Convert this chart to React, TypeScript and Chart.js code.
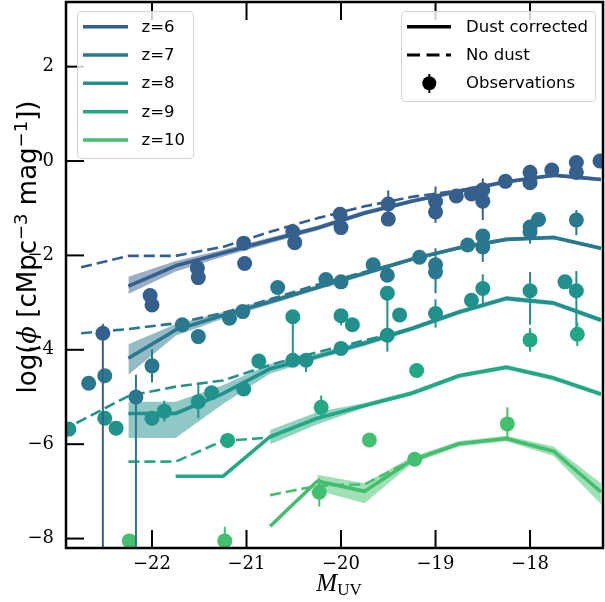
import React, { useEffect, useRef } from "react";
import { Chart, registerables } from "chart.js";

Chart.register(...registerables);

// ---------- data ----------
const Z_LABELS = ["z=6", "z=7", "z=8", "z=9", "z=10"];
const Z_COLORS = ["#355f8d", "#2a788e", "#21918c", "#22a884", "#44bf70"];
const MUV_BINS = [-23.25, -22.75, -22.25, -21.75, -21.25, -20.75, -20.25, -19.75, -19.25, -18.75, -18.25, -17.75, -17.25];

const X_TICKS = [-22, -21, -20, -19, -18];
const Y_TICKS = [-8, -6, -4, -2, 0, 2];
const X_RANGE = [-22.91, -17.228];
const Y_RANGE = [-8.2, 3.37];

// dust-corrected model, its shaded band, and no-dust model (null = not drawn)
const Z6_DUST = [null, null, -2.65, -2.22, -1.95, -1.68, -1.42, -1.1, -0.85, -0.64, -0.44, -0.3, -0.39];
const Z6_LO = [null, null, -2.82, -2.34, -2.03, -1.74, -1.47, -1.15, -0.89, -0.68, -0.48, -0.34, -0.43];
const Z6_HI = [null, null, -2.45, -2.12, -1.88, -1.62, -1.37, -1.05, -0.81, -0.6, -0.4, -0.26, -0.35];
const Z6_NODUST = [null, -2.25, -2.01, -2.01, -1.82, -1.5, -1.21, -0.96, -0.76, -0.62, -0.44, -0.3, -0.39];

const Z7_DUST = [null, null, -4.18, -3.58, -3.27, -2.98, -2.68, -2.38, -2.08, -1.84, -1.66, -1.62, -1.85];
const Z7_LO = [null, null, -4.53, -3.7, -3.34, -3.04, -2.73, -2.43, -2.12, -1.88, -1.7, -1.66, -1.89];
const Z7_HI = [null, null, -3.88, -3.46, -3.2, -2.92, -2.63, -2.33, -2.04, -1.8, -1.62, -1.58, -1.81];
const Z7_NODUST = [null, -3.65, -3.56, -3.44, -3.22, -2.93, -2.62, -2.35, -2.08, -1.84, -1.66, -1.62, -1.85];

const Z8_DUST = [null, null, -5.35, -5.35, -4.93, -4.4, -4.14, -3.86, -3.55, -3.2, -2.91, -3.01, -3.37];
const Z8_LO = [null, null, -5.87, -5.87, -5.15, -4.5, -4.2, -3.92, -3.6, -3.25, -2.96, -3.06, -3.42];
const Z8_HI = [null, null, -5.1, -5.1, -4.75, -4.3, -4.08, -3.8, -3.5, -3.15, -2.86, -2.96, -3.32];
const Z8_NODUST = [-6.02, -5.5, -4.98, -4.78, -4.65, -4.32, -4.05, -3.8, -3.55, -3.2, -2.91, -3.01, -3.37];

const Z9_DUST = [null, null, null, -6.68, -6.68, -5.84, -5.45, -5.18, -4.92, -4.55, -4.37, -4.6, -4.94];
const Z9_LO = [null, null, null, null, null, -6.0, -5.58, -5.23, -4.97, -4.6, -4.42, -4.65, -4.99];
const Z9_HI = [null, null, null, null, null, -5.7, -5.32, -5.13, -4.87, -4.5, -4.32, -4.55, -4.89];
const Z9_NODUST = [null, null, -6.37, -6.37, -5.93, -5.86, -5.45, -5.18, -4.92, -4.55, -4.37, -4.6, -4.94];

const Z10_DUST = [null, null, null, null, null, -7.74, -6.78, -7.0, -6.34, -5.99, -5.88, -6.15, -7.01];
const Z10_LO = [null, null, null, null, null, null, -6.98, -7.25, -6.41, -6.05, -5.94, -6.25, -7.27];
const Z10_HI = [null, null, null, null, null, null, -6.65, -6.83, -6.27, -5.93, -5.82, -6.05, -6.83];
const Z10_NODUST = [null, null, null, null, null, -7.08, -6.88, -6.85, -6.34, -5.99, -5.88, -6.15, -7.01];

// observations: x, y, lower error, upper error
const OBS_Z6_X = [-22.52, -22.02, -22.0, -21.52, -21.51, -21.03, -21.02, -20.51, -20.49, -20.01, -20.0, -19.5, -19.5, -19.0, -19.0, -18.78, -18.62, -18.5, -18.5, -18.26, -18.0, -18.0, -17.77, -17.51, -17.51, -17.26];
const OBS_Z6_Y = [-3.65, -2.85, -3.05, -2.27, -2.47, -1.74, -2.17, -1.5, -1.73, -1.13, -1.41, -0.91, -1.23, -0.86, -1.08, -0.74, -0.7, -0.61, -0.85, -0.43, -0.24, -0.46, -0.19, -0.03, -0.24, 0.0];
const OBS_Z6_ELO = [5, 0, 0.12, 0, 0, 0, 0, 0, 0, 0, 0, 0.29, 0, 0.45, 0, 0, 0, 0, 0.4, 0, 0, 0.15, 0, 0, 0.16, 0];
const OBS_Z6_EHI = [0.2, 0, 0.12, 0, 0, 0, 0, 0, 0, 0, 0, 0.29, 0, 0.32, 0, 0, 0, 0, 0.48, 0, 0.16, 0, 0, 0.12, 0, 0];

const OBS_Z7_X = [-22.67, -22.5, -22.17, -22.0, -21.68, -21.51, -21.18, -21.04, -20.67, -20.16, -20.0, -19.66, -19.51, -19.17, -19.0, -19.0, -18.66, -18.5, -18.5, -18.0, -18.0, -17.91, -17.51];
const OBS_Z7_Y = [-4.71, -4.55, -5.0, -4.34, -3.47, -3.72, -3.33, -3.19, -2.68, -2.51, -2.56, -2.2, -2.42, -2.04, -2.2, -2.35, -1.78, -1.59, -1.82, -1.4, -1.5, -1.24, -1.25];
const OBS_Z7_ELO = [0, 0, 5, 0.35, 0, 0, 0, 0, 0, 0, 0, 0, 0, 0, 0, 0.45, 0, 0, 0.32, 0, 0.25, 0, 0.32];
const OBS_Z7_EHI = [0, 0, 0.47, 0.35, 0, 0, 0, 0, 0, 0, 0, 0, 0, 0, 0, 0.5, 0, 0, 0.2, 0, 0.25, 0, 0.21];

const OBS_Z8_X = [-22.88, -22.5, -22.38, -22.0, -21.87, -21.51, -21.37, -21.03, -20.87, -20.51, -20.51, -20.37, -20.0, -19.88, -20.0, -19.51, -19.51, -19.38, -19.0, -18.62, -18.5, -18.0, -17.63, -17.51];
const OBS_Z8_Y = [-5.68, -5.45, -5.66, -5.45, -5.3, -5.1, -4.91, -4.83, -4.24, -4.22, -3.3, -4.22, -3.28, -3.47, -3.97, -2.8, -3.69, -3.26, -3.23, -2.95, -2.7, -2.75, -2.56, -2.75];
const OBS_Z8_ELO = [0, 0, 0, 0, 0.22, 0.35, 0, 0, 0, 0, 0.92, 0.25, 0.2, 0, 0, 0, 0.35, 0, 0.3, 0, 0.39, 0.72, 0, 0.85];
const OBS_Z8_EHI = [0, 0, 0, 0, 0.22, 0.35, 0, 0, 0, 0, 0, 0, 0, 0, 0, 0, 0.95, 0, 0.3, 0, 0.3, 0.4, 0, 0.42];

const OBS_Z9_X = [-21.2, -20.21, -19.2, -18.0, -17.5];
const OBS_Z9_Y = [-5.92, -5.22, -4.44, -3.79, -3.67];
const OBS_Z9_ELO = [0, 0.25, 0.1, 0.25, 0.25];
const OBS_Z9_EHI = [0, 0.25, 0, 0.25, 0.25];

const OBS_Z10_X = [-22.24, -21.23, -20.23, -19.7, -19.22, -18.24];
const OBS_Z10_Y = [-8.05, -8.05, -7.02, -5.91, -6.32, -5.57];
const OBS_Z10_ELO = [0, 0, 0.3, 0.1, 0, 0.35];
const OBS_Z10_EHI = [0, 0.3, 0.3, 0, 0, 0.35];

const MODELS = [
  { dust: Z6_DUST, lo: Z6_LO, hi: Z6_HI, nodust: Z6_NODUST },
  { dust: Z7_DUST, lo: Z7_LO, hi: Z7_HI, nodust: Z7_NODUST },
  { dust: Z8_DUST, lo: Z8_LO, hi: Z8_HI, nodust: Z8_NODUST },
  { dust: Z9_DUST, lo: Z9_LO, hi: Z9_HI, nodust: Z9_NODUST },
  { dust: Z10_DUST, lo: Z10_LO, hi: Z10_HI, nodust: Z10_NODUST },
];
const OBS = [
  { x: OBS_Z6_X, y: OBS_Z6_Y, elo: OBS_Z6_ELO, ehi: OBS_Z6_EHI },
  { x: OBS_Z7_X, y: OBS_Z7_Y, elo: OBS_Z7_ELO, ehi: OBS_Z7_EHI },
  { x: OBS_Z8_X, y: OBS_Z8_Y, elo: OBS_Z8_ELO, ehi: OBS_Z8_EHI },
  { x: OBS_Z9_X, y: OBS_Z9_Y, elo: OBS_Z9_ELO, ehi: OBS_Z9_EHI },
  { x: OBS_Z10_X, y: OBS_Z10_Y, elo: OBS_Z10_ELO, ehi: OBS_Z10_EHI },
];

// ---------- helpers ----------
function rgba(hex: string, a: number) {
  const n = parseInt(hex.slice(1), 16);
  return `rgba(${(n >> 16) & 255},${(n >> 8) & 255},${n & 255},${a})`;
}
function series(vals: (number | null)[]) {
  return MUV_BINS.map((x, i) => ({ x, y: vals[i] })).filter((p) => p.y !== null);
}
const fmt = (v: any) => String(v).replace("-", "\u2212");

const errorBarPlugin = {
  id: "errorBars",
  afterDatasetsDraw(chart: any) {
    const { ctx, chartArea: a, scales } = chart;
    ctx.save();
    ctx.beginPath();
    ctx.rect(a.left, a.top, a.right - a.left, a.bottom - a.top);
    ctx.clip();
    chart.data.datasets.forEach((ds: any) => {
      if (!ds.errLo) return;
      ctx.strokeStyle = ds.pointBackgroundColor;
      ctx.lineWidth = 2;
      ds.data.forEach((p: any, j: number) => {
        const lo = ds.errLo[j];
        const hi = ds.errHi[j];
        if (!lo && !hi) return;
        const px = scales.x.getPixelForValue(p.x);
        ctx.beginPath();
        ctx.moveTo(px, scales.y.getPixelForValue(p.y - lo));
        ctx.lineTo(px, scales.y.getPixelForValue(p.y + hi));
        ctx.stroke();
      });
    });
    ctx.restore();
  },
};

const framePlugin = {
  id: "frameTicks",
  afterDraw(chart: any) {
    const { ctx, chartArea: a, scales } = chart;
    const L = 18;
    ctx.save();
    ctx.strokeStyle = "#000";
    ctx.lineWidth = 2;
    const seg = (x1: number, y1: number, x2: number, y2: number) => {
      ctx.beginPath();
      ctx.moveTo(x1, y1);
      ctx.lineTo(x2, y2);
      ctx.stroke();
    };
    X_TICKS.forEach((v) => {
      const px = scales.x.getPixelForValue(v);
      seg(px, a.bottom, px, a.bottom - L);
      seg(px, a.top, px, a.top + L);
    });
    Y_TICKS.forEach((v) => {
      const py = scales.y.getPixelForValue(v);
      seg(a.left, py, a.left + L, py);
    });
    ctx.lineWidth = 2.5;
    ctx.strokeRect(a.left, a.top, a.right - a.left, a.bottom - a.top);
    ctx.restore();
  },
};

// ---------- component ----------
export default function App() {
  const ref = useRef<HTMLCanvasElement>(null);

  useEffect(() => {
    const datasets: any[] = [];
    MODELS.forEach((m, i) => {
      const c = Z_COLORS[i];
      datasets.push({
        data: series(m.lo), borderWidth: 0, pointRadius: 0, borderColor: "transparent",
        backgroundColor: rgba(c, 0.5), fill: false, order: 4, clip: 0,
      });
      datasets.push({
        data: series(m.hi), borderWidth: 0, pointRadius: 0, borderColor: "transparent",
        backgroundColor: rgba(c, 0.5), fill: "-1", order: 4, clip: 0,
      });
      datasets.push({
        data: series(m.nodust), borderColor: c, borderWidth: 2.6, borderDash: [11, 5],
        pointRadius: 0, fill: false, order: 2, clip: 0, borderJoinStyle: "round",
      });
      datasets.push({
        data: series(m.dust), borderColor: c, borderWidth: 3.6,
        pointRadius: 0, fill: false, order: 1, clip: 0, borderJoinStyle: "round",
      });
    });
    OBS.forEach((o, i) => {
      const c = Z_COLORS[i];
      datasets.push({
        data: o.x.map((x, j) => ({ x, y: o.y[j] })),
        showLine: false, pointRadius: 7.5, pointHoverRadius: 7.5, pointBorderWidth: 0,
        pointBackgroundColor: c, pointBorderColor: c, order: 0, clip: 0,
        errLo: o.elo, errHi: o.ehi,
      });
    });

    const tickFont = { family: "'DejaVu Serif', serif", size: 18 };
    const chart = new Chart(ref.current as HTMLCanvasElement, {
      type: "line",
      data: { datasets },
      options: {
        responsive: false,
        animation: false,
        devicePixelRatio: 1,
        events: [],
        layout: { autoPadding: false, padding: { top: 2, right: 2, left: 0, bottom: 0 } },
        elements: { line: { tension: 0 } },
        plugins: { legend: { display: false }, tooltip: { enabled: false } },
        scales: {
          x: {
            type: "linear",
            min: X_RANGE[0],
            max: X_RANGE[1],
            afterBuildTicks: (s: any) => { s.ticks = X_TICKS.map((v) => ({ value: v })); },
            afterFit: (s: any) => { s.height = 54; s.paddingLeft = 0; s.paddingRight = 0; },
            grid: { display: false, drawTicks: false },
            border: { display: false },
            ticks: { font: tickFont, color: "#000", padding: 6, maxRotation: 0, autoSkip: false, callback: fmt },
          },
          y: {
            type: "linear",
            min: Y_RANGE[0],
            max: Y_RANGE[1],
            afterBuildTicks: (s: any) => { s.ticks = Y_TICKS.map((v) => ({ value: v })); },
            afterFit: (s: any) => { s.width = 66; s.paddingTop = 0; s.paddingBottom = 0; },
            grid: { display: false, drawTicks: false },
            border: { display: false },
            ticks: { font: tickFont, color: "#000", padding: 12, autoSkip: false, callback: fmt },
          },
        },
      } as any,
      plugins: [errorBarPlugin, framePlugin],
    });
    return () => chart.destroy();
  }, []);

  const legendFont = "'DejaVu Sans', sans-serif";
  const rowsY = [26.7, 55, 83.3, 111.7, 140];

  return (
    <div style={{ position: "fixed", left: 0, top: 0, width: 605, height: 602, background: "#fff", overflow: "hidden" }}>
      <canvas ref={ref} width={605} height={602} style={{ position: "absolute", left: 0, top: 0, width: 605, height: 602 }} />

      {/* redshift legend */}
      <div style={{ position: "absolute", left: 76.5, top: 11, width: 117, height: 148, boxSizing: "border-box",
        border: "1px solid #d4d4d4", borderRadius: 4, background: "rgba(255,255,255,0.8)" }} />
      <svg width={605} height={602} style={{ position: "absolute", left: 0, top: 0, pointerEvents: "none" }}>
        {Z_LABELS.map((_, i) => (
          <line key={i} x1={83} x2={128} y1={rowsY[i]} y2={rowsY[i]} stroke={Z_COLORS[i]} strokeWidth={3.6} />
        ))}
      </svg>
      {Z_LABELS.map((t, i) => (
        <div key={t} style={{ position: "absolute", left: 141.5, top: rowsY[i] - 11, height: 22, lineHeight: "22px",
          fontFamily: legendFont, fontSize: 16.5, color: "#000", whiteSpace: "nowrap" }}>{t}</div>
      ))}

      {/* style legend */}
      <div style={{ position: "absolute", left: 400.5, top: 11, width: 195, height: 91, boxSizing: "border-box",
        border: "1px solid #d4d4d4", borderRadius: 4, background: "rgba(255,255,255,0.8)" }} />
      <svg width={605} height={602} style={{ position: "absolute", left: 0, top: 0, pointerEvents: "none" }}>
        <line x1={407} x2={451} y1={26.7} y2={26.7} stroke="#000" strokeWidth={3.6} />
        <line x1={407} x2={451} y1={55} y2={55} stroke="#000" strokeWidth={3} strokeDasharray="13 6.5" />
        <line x1={429.3} x2={429.3} y1={74} y2={93} stroke="#000" strokeWidth={2} />
        <circle cx={429.3} cy={83.3} r={7} fill="#000" />
      </svg>
      {["Dust corrected", "No dust", "Observations"].map((t, i) => (
        <div key={t} style={{ position: "absolute", left: 466, top: rowsY[i] - 11, height: 22, lineHeight: "22px",
          fontFamily: legendFont, fontSize: 16.5, color: "#000", whiteSpace: "nowrap" }}>{t}</div>
      ))}

      {/* axis titles */}
      <div style={{ position: "absolute", left: 339, top: 586, transform: "translate(-50%, -50%)", whiteSpace: "nowrap",
        fontFamily: "'Liberation Serif', serif", fontSize: 25, color: "#000", lineHeight: "26px" }}>
        <i>M</i><sub style={{ fontSize: 17, verticalAlign: "-4px" }}>UV</sub>
      </div>
      <div style={{ position: "absolute", left: 24, top: 247, transform: "translate(-50%, -50%) rotate(-90deg)", whiteSpace: "nowrap",
        fontFamily: "'DejaVu Sans', sans-serif", fontSize: 26, color: "#000", lineHeight: "28px" }}>
        log(<i style={{ fontFamily: "'DejaVu Serif', serif" }}>ϕ</i> [cMpc<sup style={{ fontSize: 18, verticalAlign: "9px" }}>−3</sup> mag<sup style={{ fontSize: 18, verticalAlign: "9px" }}>−1</sup>])
      </div>
    </div>
  );
}
